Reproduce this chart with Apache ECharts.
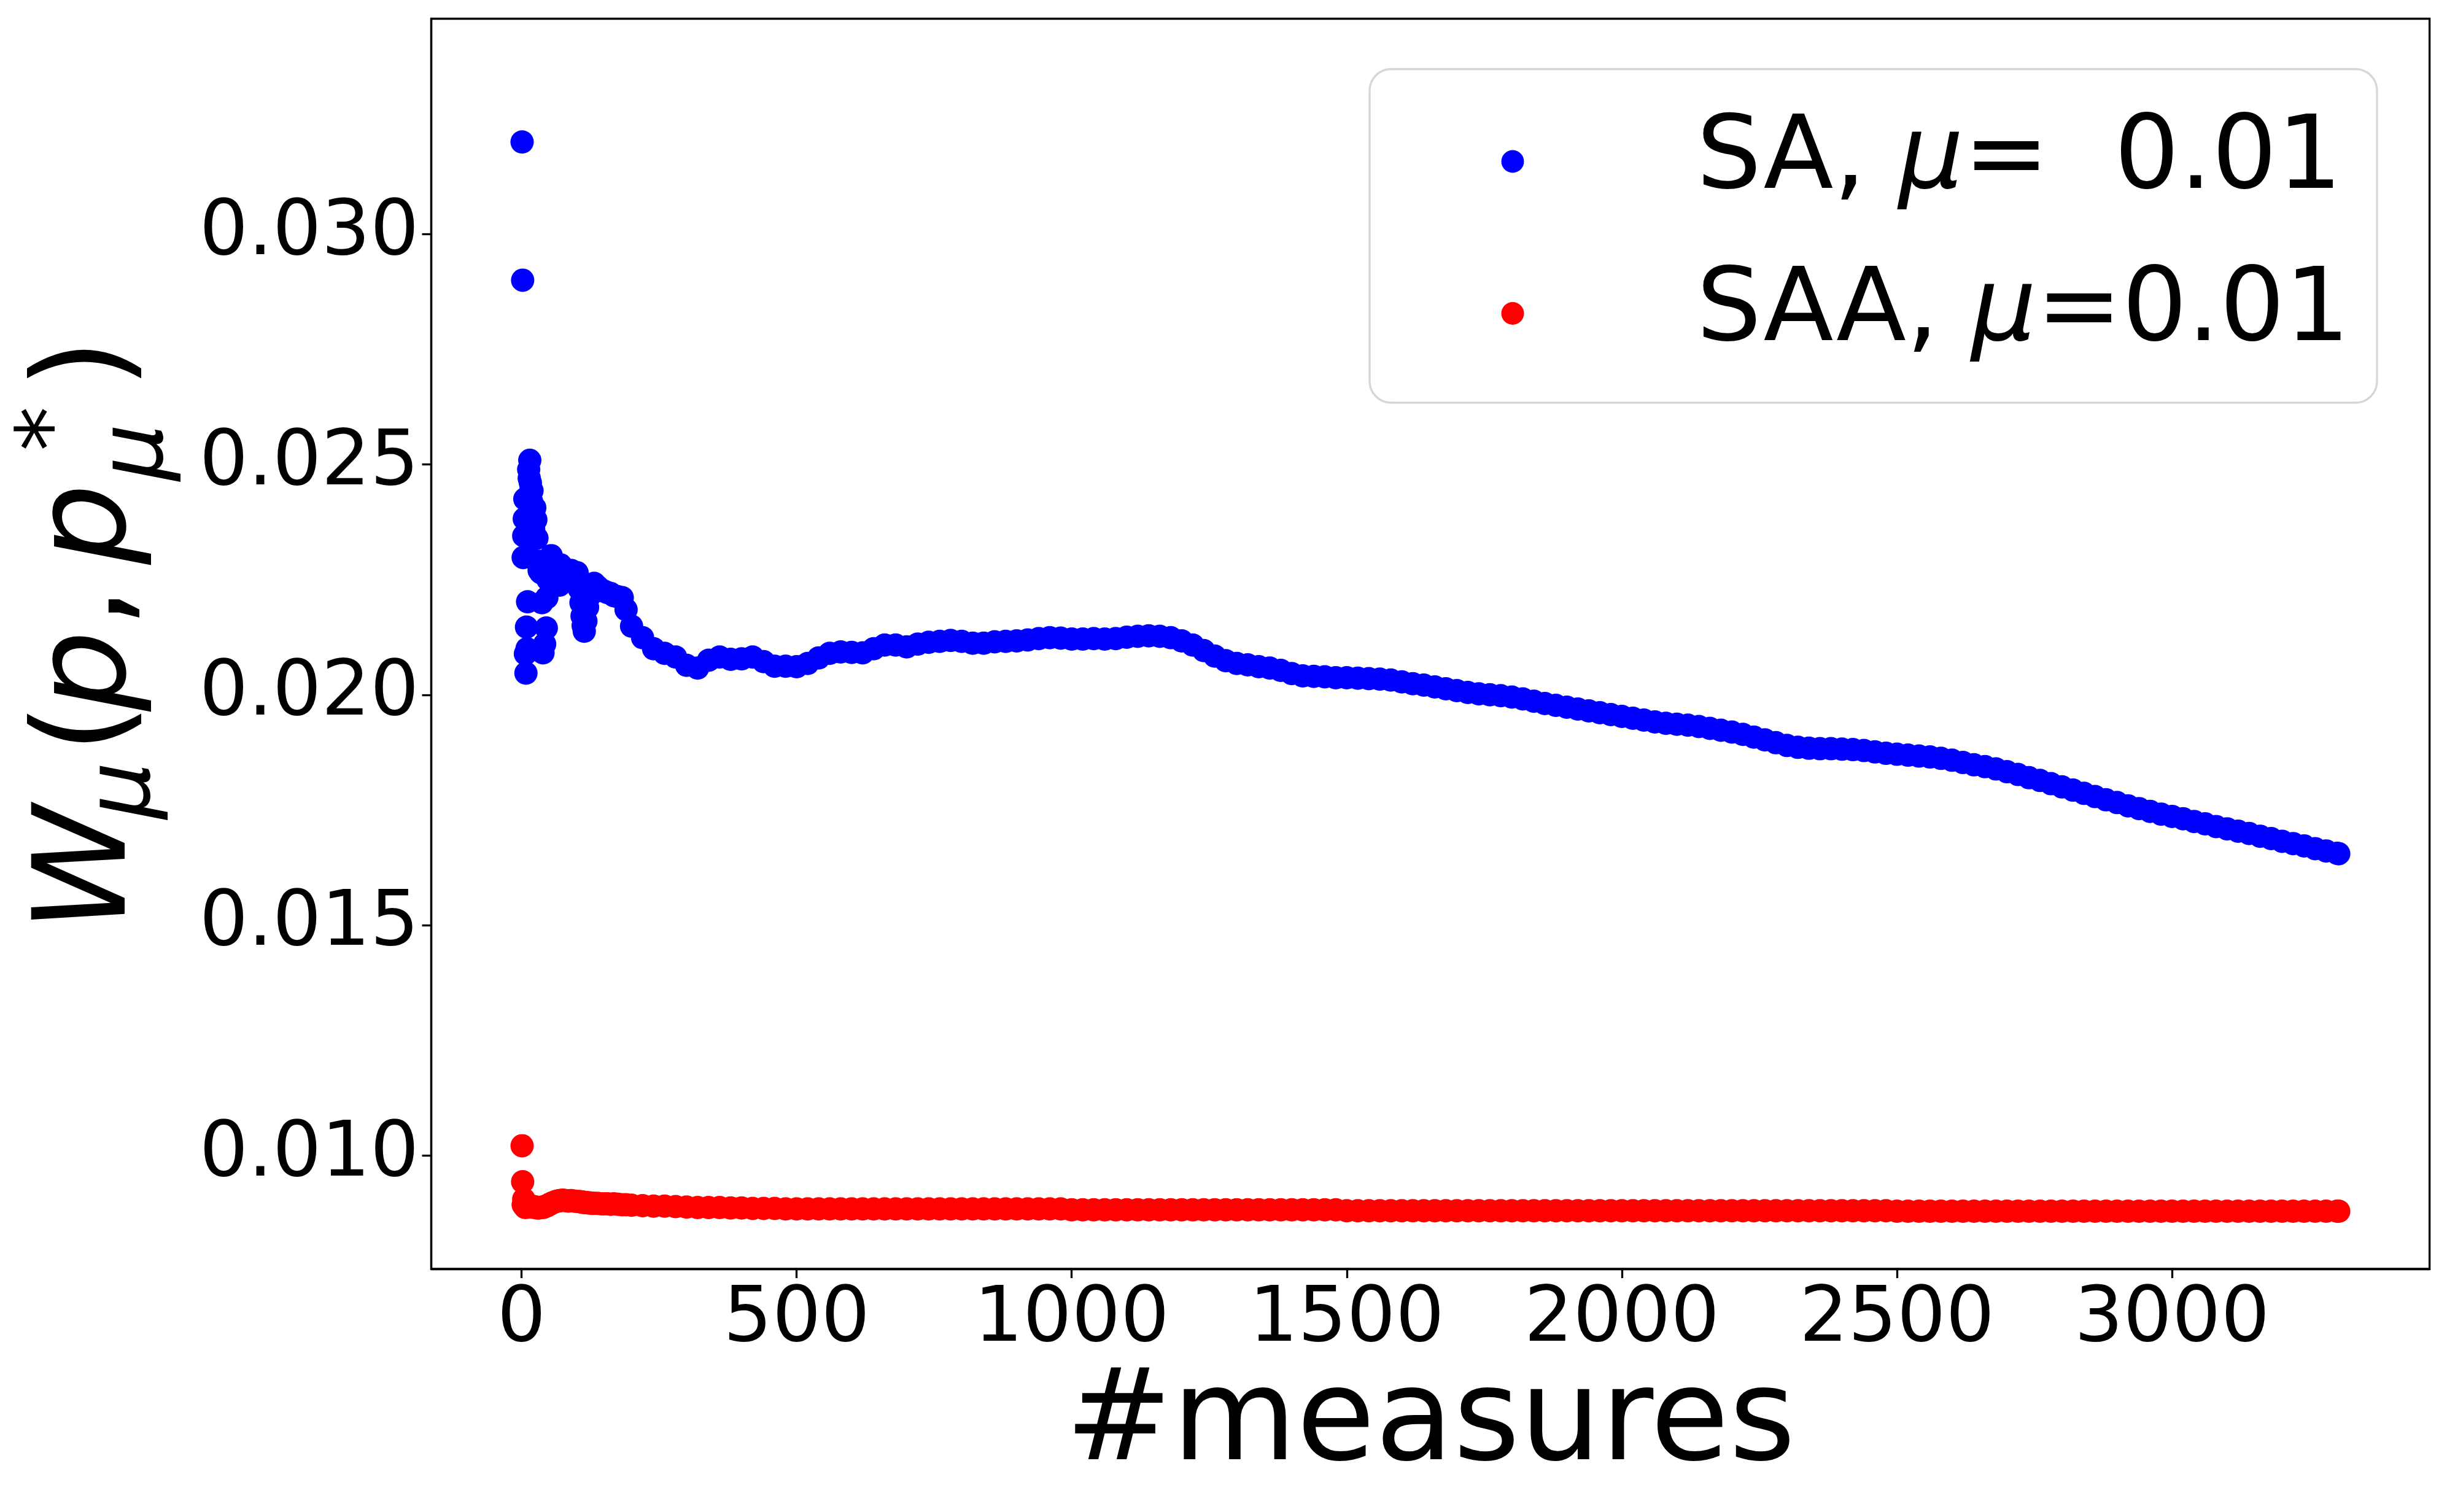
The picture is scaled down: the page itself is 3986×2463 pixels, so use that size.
<!DOCTYPE html>
<html>
<head>
<meta charset="utf-8">
<script src="https://cdn.jsdelivr.net/npm/echarts@6/dist/echarts.min.js"></script>
<style>
html,body{margin:0;padding:0;background:#fff;}
#chart{width:3986px;height:2463px;}
</style>
</head>
<body>
<div id="chart"></div>
<script>
// ---------------- data ----------------
const measures = [
  1,2,3,4,5,6,7,8,9,10,11,12,13,14,15,16,17,18,19,20,21,22,24,26,28,30,32,35,37,39,
  42,45,46,48,51,54,58,62,66,69,71,75,80,85,90,95,101,105,108,110,112,114,117,120,124,128,132,138,145,150,
  156,162,168,175,183,190,
  200,220,240,260,280,300,320,340,360,380,400,420,440,460,480,500,520,540,560,580,
  600,620,640,660,680,700,720,740,760,780,800,820,840,860,880,900,920,940,960,980,
  1000,1020,1040,1060,1080,1100,1120,1140,1160,1180,1200,1220,1240,1260,1280,1300,1320,1340,1360,1380,
  1400,1420,1440,1460,1480,1500,1520,1540,1560,1580,1600,1620,1640,1660,1680,1700,1720,1740,1760,1780,
  1800,1820,1840,1860,1880,1900,1920,1940,1960,1980,2000,2020,2040,2060,2080,2100,2120,2140,2160,2180,
  2200,2220,2240,2260,2280,2300,2320,2340,2360,2380,2400,2420,2440,2460,2480,2500,2520,2540,2560,2580,
  2600,2620,2640,2660,2680,2700,2720,2740,2760,2780,2800,2820,2840,2860,2880,2900,2920,2940,2960,2980,
  3000,3020,3040,3060,3080,3100,3120,3140,3160,3180,3200,3220,3240,3260,3280,3300,3303
];
const saValues = [
  0.03200,0.02900,0.02298,0.02345,0.02382,0.02425,0.02089,0.02047,0.02147,0.02100,0.02202,0.02300,0.02489,0.02470,0.02509,0.02460,0.02443,0.02420,0.02443,0.02400,0.02380,0.02360,0.02406,0.02380,0.02340,0.02290,0.02270,0.02265,0.02200,0.02091,
  0.02110,0.02145,0.02211,0.02250,0.02280,0.02302,0.02280,0.02260,0.02250,0.02238,0.02282,0.02275,0.02268,0.02262,0.02270,0.02265,0.02265,0.02230,0.02200,0.02171,0.02150,0.02138,0.02160,0.02190,0.02215,0.02235,0.02242,0.02235,0.02228,0.02225,
  0.02222,0.02220,0.02215,0.02213,0.02211,0.02185,
  0.02149,0.02124,0.02100,0.02090,0.02082,0.02064,0.02058,0.02075,0.02082,0.02077,0.02078,0.02082,0.02072,0.02062,0.02062,0.02061,0.02068,0.02080,0.02090,0.02093,
  0.02092,0.02091,0.02100,0.02108,0.02108,0.02104,0.02110,0.02114,0.02116,0.02118,0.02116,0.02112,0.02112,0.02115,0.02116,0.02117,0.02119,0.02122,0.02124,0.02123,
  0.02121,0.02121,0.02122,0.02121,0.02122,0.02125,0.02127,0.02128,0.02127,0.02124,0.02117,0.02108,0.02096,0.02084,0.02074,0.02068,0.02065,0.02061,0.02058,0.02053,
  0.02046,0.02041,0.02040,0.02039,0.02037,0.02037,0.02036,0.02035,0.02034,0.02032,0.02028,0.02024,0.02021,0.02017,0.02013,0.02009,0.02005,0.02002,0.02000,0.01998,
  0.01995,0.01991,0.01986,0.01981,0.01977,0.01973,0.01969,0.01965,0.01961,0.01957,0.01953,0.01949,0.01945,0.01941,0.01938,0.01936,0.01934,0.01931,0.01927,0.01923,
  0.01919,0.01914,0.01908,0.01902,0.01896,0.01890,0.01886,0.01884,0.01883,0.01883,0.01882,0.01881,0.01879,0.01876,0.01873,0.01871,0.01869,0.01867,0.01865,0.01862,
  0.01858,0.01853,0.01848,0.01844,0.01839,0.01833,0.01827,0.01820,0.01814,0.01807,0.01800,0.01793,0.01786,0.01779,0.01772,0.01766,0.01759,0.01753,0.01747,0.01741,
  0.01736,0.01731,0.01725,0.01720,0.01714,0.01709,0.01704,0.01699,0.01693,0.01688,0.01682,0.01677,0.01672,0.01666,0.01661,0.01656,0.01655
];
const saaValues = [
  0.01021,0.00943,0.00893,0.00905,0.00890,0.00898,0.00887,0.00895,0.00889,0.00892,0.00890,0.00888,0.00892,0.00889,0.00891,0.00890,0.00888,0.00889,0.00890,0.00888,0.00889,0.00888,0.00887,0.00888,0.00886,0.00887,0.00886,0.00887,0.00888,0.00887,
  0.00889,0.00890,0.00891,0.00892,0.00894,0.00896,0.00898,0.00900,0.00901,0.00902,0.00902,0.00903,0.00902,0.00901,0.00902,0.00901,0.00900,0.00900,0.00899,0.00899,0.00898,0.00898,0.00898,0.00897,0.00897,0.00896,0.00896,0.00896,0.00895,0.00895,
  0.00895,0.00894,0.00895,0.00894,0.00893,0.00893,
  0.00892,0.00891,0.00890,0.00890,0.00889,0.00888,0.00887,0.00887,0.00887,0.00886,0.00886,0.00885,0.00885,0.00885,0.00884,0.00884,0.00884,0.00884,0.00884,0.00884,
  0.00884,0.00884,0.00884,0.00884,0.00884,0.00884,0.00884,0.00884,0.00884,0.00884,0.00884,0.00884,0.00884,0.00884,0.00884,0.00884,0.00884,0.00884,0.00884,0.00884,
  0.00882,0.00882,0.00882,0.00882,0.00882,0.00882,0.00882,0.00882,0.00882,0.00882,0.00882,0.00882,0.00882,0.00882,0.00882,0.00882,0.00882,0.00882,0.00882,0.00882,
  0.00882,0.00882,0.00882,0.00882,0.00882,0.00880,0.00880,0.00880,0.00880,0.00880,0.00880,0.00880,0.00880,0.00880,0.00880,0.00880,0.00880,0.00880,0.00880,0.00880,
  0.00880,0.00880,0.00880,0.00880,0.00880,0.00880,0.00880,0.00880,0.00880,0.00880,0.00880,0.00880,0.00880,0.00880,0.00880,0.00880,0.00880,0.00880,0.00880,0.00880,
  0.00880,0.00880,0.00880,0.00880,0.00880,0.00880,0.00880,0.00880,0.00880,0.00880,0.00880,0.00880,0.00880,0.00880,0.00880,0.00879,0.00879,0.00879,0.00879,0.00879,
  0.00879,0.00879,0.00879,0.00879,0.00879,0.00879,0.00879,0.00879,0.00879,0.00879,0.00879,0.00879,0.00879,0.00879,0.00879,0.00879,0.00879,0.00879,0.00879,0.00879,
  0.00879,0.00879,0.00879,0.00879,0.00879,0.00879,0.00879,0.00879,0.00879,0.00879,0.00879,0.00879,0.00879,0.00879,0.00879,0.00879,0.00879
];
const xTickValues = [0, 500, 1000, 1500, 2000, 2500, 3000];
const yTickValues = [0.010, 0.015, 0.020, 0.025, 0.030];
const seriesNames = ['SA, \u03bc=  0.01', 'SAA, \u03bc=0.01'];
const xAxisTitle = '#measures';

// ---------------- chart ----------------
const FONT = "'DejaVu Sans', 'Liberation Sans', sans-serif";
const chart = echarts.init(document.getElementById('chart'), null, {renderer: 'canvas'});

const pair = (vals) => measures.map((m, i) => [m, vals[i]]);

const legendRich = {
  a: {fontFamily: FONT, fontSize: 166.7, color: '#000', lineHeight: 166, padding: [0, 0, 0, 276]},
  n: {fontFamily: FONT, fontSize: 166.7, color: '#000', lineHeight: 166},
  i: {fontFamily: FONT, fontSize: 166.7, color: '#000', lineHeight: 166, fontStyle: 'italic'}
};
function legendFormatter(name) {
  const k = name.indexOf('\u03bc');
  return '{a|' + name.slice(0, k) + '}{i|\u03bc}{n|' + name.slice(k + 1) + '}';
}

// y-axis title W_mu(p, p_mu^*) built from text pieces in a rotated group
const S = 208, s = 146, K = 0.33;
function piece(txt, u, base, size, italic) {
  return {
    type: 'text', x: u, y: base - K * size,
    style: {text: txt, fontFamily: FONT, fontSize: size, fontStyle: italic ? 'italic' : 'normal',
            fill: '#000', align: 'left', verticalAlign: 'middle'}
  };
}

const option = {
  backgroundColor: '#fff',
  animation: false,
  grid: {left: 702.5, right: 28.4, top: 30.5, bottom: 396, show: true,
         borderColor: '#000', borderWidth: 3.3, backgroundColor: 'transparent', containLabel: false},
  xAxis: {
    type: 'value', min: -164.1, max: 3468.1,
    axisLine: {show: true, onZero: false, lineStyle: {color: '#000', width: 3.3}},
    axisTick: {show: true, length: 15, lineStyle: {color: '#000', width: 3.3}, customValues: xTickValues},
    axisLabel: {customValues: xTickValues, fontSize: 125, fontFamily: FONT, color: '#000', margin: 22,
                formatter: (v) => String(Math.round(v))},
    splitLine: {show: false},
    name: xAxisTitle, nameLocation: 'middle', nameGap: 150,
    nameTextStyle: {fontSize: 208, fontFamily: FONT, color: '#000'}
  },
  yAxis: {
    type: 'value', min: 0.007537, max: 0.034676,
    axisLine: {show: true, onZero: false, lineStyle: {color: '#000', width: 3.3}},
    axisTick: {show: true, length: 15, lineStyle: {color: '#000', width: 3.3}, customValues: yTickValues},
    axisLabel: {customValues: yTickValues, fontSize: 125, fontFamily: FONT, color: '#000', margin: 20,
                formatter: (v) => v.toFixed(3)},
    splitLine: {show: false}
  },
  legend: {
    orient: 'vertical', left: 2445.5, top: 179.5, itemGap: 80.5, padding: 0,
    itemWidth: 37, itemHeight: 37, icon: 'circle', selectedMode: false,
    data: seriesNames,
    formatter: legendFormatter,
    textStyle: {fontFamily: FONT, fontSize: 166.7, color: '#000', rich: legendRich}
  },
  graphic: [
    {
      type: 'rect', z: 3, silent: true,
      shape: {x: 2231, y: 112.5, width: 1641, height: 543.5, r: 35},
      style: {fill: 'rgba(255,255,255,0.8)', stroke: '#d6d6d6', lineWidth: 3.3}
    },
    {
      type: 'group', x: 0, y: 1510, rotation: Math.PI / 2, silent: true,
      children: [
        piece('W', -8, 218, S, true),
        piece('\u03bc', 176, 253, s, true),
        piece('(', 283, 218, S, false),
        piece('p', 351, 218, S, true),
        piece(',', 488, 218, S, false),
        piece('p', 590, 218, S, true),
        piece('\u03bc', 727, 274, s, true),
        piece('*', 775, 141, s, false),
        piece(')', 877, 218, S, false)
      ]
    }
  ],
  series: [
    {name: seriesNames[0], type: 'scatter', data: pair(saValues), symbol: 'circle', symbolSize: 38,
     itemStyle: {color: '#0000ff', opacity: 1}, z: 2, emphasis: {disabled: true}},
    {name: seriesNames[1], type: 'scatter', data: pair(saaValues), symbol: 'circle', symbolSize: 38,
     itemStyle: {color: '#ff0000', opacity: 1}, z: 2, emphasis: {disabled: true}}
  ]
};
chart.setOption(option);
</script>
</body>
</html>
